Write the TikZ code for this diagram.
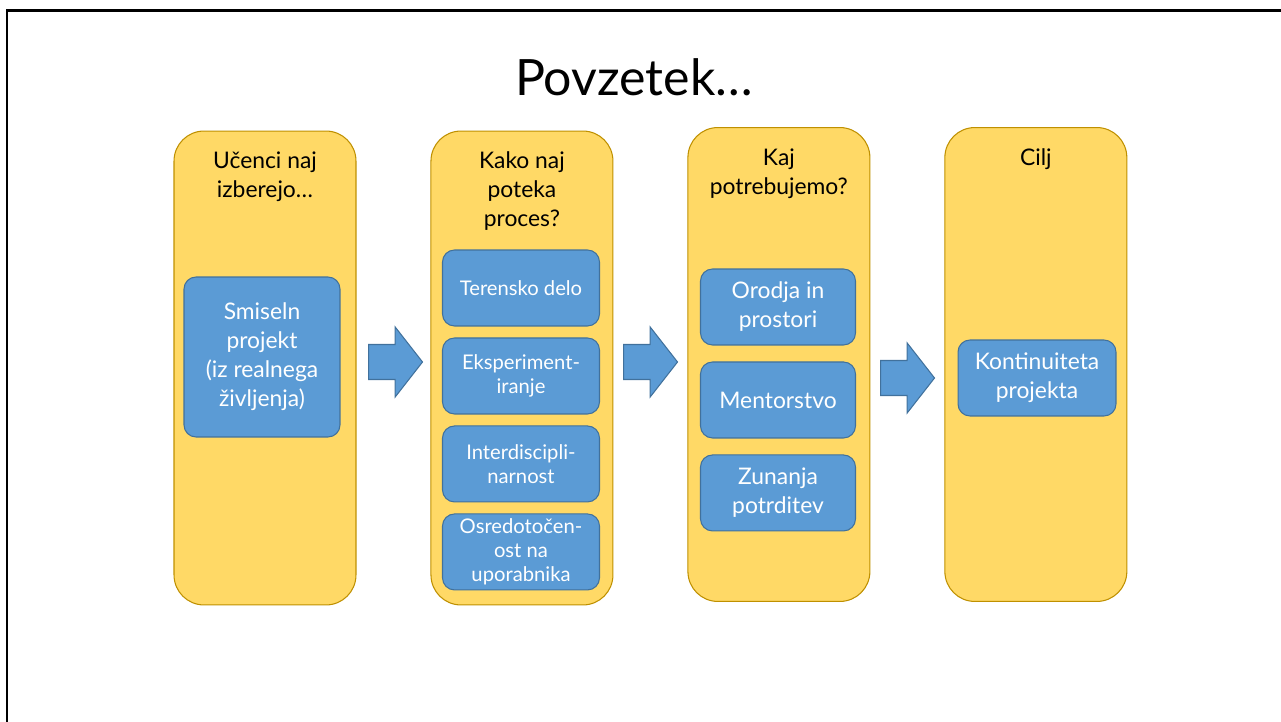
\documentclass[tikz,border=0pt]{standalone}
\usepackage{fontspec}
\setmainfont{Lato}
\usetikzlibrary{shapes.arrows,positioning}
\definecolor{colfill}{HTML}{FFD966}
\definecolor{colline}{HTML}{BF9000}
\definecolor{itemfill}{HTML}{5B9BD5}
\definecolor{itemline}{HTML}{41719C}
\begin{document}
\begin{tikzpicture}[x=0.02cm, y=-0.02cm, node distance=5.14cm,
  col/.style={rectangle, rounded corners=6mm, draw=colline, line width=0.6pt, fill=colfill, minimum width=3.64cm, minimum height=9.48cm},
  heading/.style={anchor=north, inner sep=0pt, align=center, font=\fontsize{13}{16.5}\selectfont},
  item/.style={rectangle, rounded corners=2.4mm, draw=itemline, line width=0.6pt, fill=itemfill, text=white, align=center, inner sep=0pt, minimum width=3.14cm, minimum height=1.52cm, font=\fontsize{13}{16.5}\selectfont},
  smallitem/.style={item, font=\fontsize{11.5}{13.8}\selectfont},
  bigarrow/.style={single arrow, draw=itemline, line width=0.6pt, fill=itemfill, anchor=tail, inner xsep=0pt, inner ysep=3.4mm, minimum height=1.08cm, single arrow head extend=3.5mm, single arrow tip angle=104}]
\useasboundingbox (0,0) rectangle (1281,722);
\draw[line width=0.6mm] (7,722) -- (7,11) -- (1281,11);
\node[anchor=base, font=\fontsize{28.5}{32}\selectfont] (title) at (634,96) {Povzetek…};
\node[col] (c1) at (265,368) {};
\node[col] (c2) [right of=c1] {};
\node[col] (c3) [right of=c2, yshift=0.7mm] {};
\node[col] (c4) [right of=c3] {};
\node[heading] (h1) at ([yshift=-4.2mm]c1.north) {Učenci naj\\izberejo…};
\node[heading] (h2) at ([yshift=-4.2mm]c2.north) {Kako naj\\poteka\\proces?};
\node[heading] (h3) at ([yshift=-4.2mm]c3.north) {Kaj\\potrebujemo?};
\node[heading] (h4) at ([yshift=-4.2mm]c4.north) {Cilj};
\node[item, minimum width=3.12cm, minimum height=3.2cm] (p1) at (262,357) {Smiseln\\projekt\\(iz realnega\\življenja)};
\node[smallitem] (t1) at (521,288) {Terensko delo};
\node[smallitem] (t2) [below of=t1, node distance=1.76cm] {Eksperiment-\\iranje};
\node[smallitem] (t3) [below of=t2, node distance=1.76cm] {Interdiscipli-\\narnost};
\node[smallitem] (t4) [below of=t3, node distance=1.76cm] {Osredotočen-\\ost na\\uporabnika};
\node[item, minimum width=3.1cm] (n1) at (778,307) {Orodja in\\prostori};
\node[item, minimum width=3.1cm] (n2) [below of=n1, node distance=1.86cm] {Mentorstvo};
\node[item, minimum width=3.1cm] (n3) [below of=n2, node distance=1.86cm] {Zunanja\\potrditev};
\node[item, minimum width=3.16cm] (g1) at (1037,378) {Kontinuiteta\\projekta};
\node[bigarrow] (a1) at (368,362) {};
\node[bigarrow] (a2) at (623,362) {};
\node[bigarrow] (a3) at (880,378) {};
\end{tikzpicture}
\end{document}
